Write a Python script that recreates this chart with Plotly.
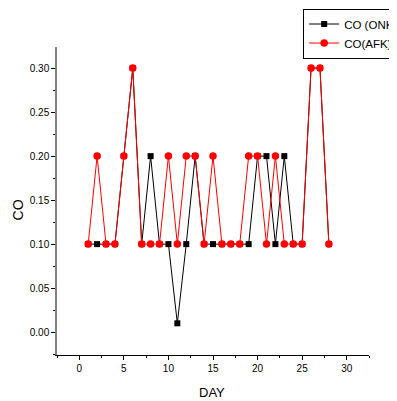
import plotly.graph_objects as go

days = list(range(1, 29))
co_onk = [0.1, 0.1, 0.1, 0.1, 0.2, 0.3, 0.1, 0.2, 0.1, 0.1, 0.01, 0.1, 0.2, 0.1,
          0.1, 0.1, 0.1, 0.1, 0.1, 0.2, 0.2, 0.1, 0.2, 0.1, 0.1, 0.3, 0.3, 0.1]
co_afk = [0.1, 0.2, 0.1, 0.1, 0.2, 0.3, 0.1, 0.1, 0.1, 0.2, 0.1, 0.2, 0.2, 0.1,
          0.2, 0.1, 0.1, 0.1, 0.2, 0.2, 0.1, 0.2, 0.1, 0.1, 0.1, 0.3, 0.3, 0.1]
series_names = ["CO (ONK)", "CO(AFK)"]
x_title = "DAY"
y_title = "CO"

fig = go.Figure()
fig.add_trace(go.Scatter(x=days, y=co_onk, name=series_names[0], mode="lines+markers",
                         line=dict(color="black", width=1),
                         marker=dict(symbol="square", size=6, color="black")))
fig.add_trace(go.Scatter(x=days, y=co_afk, name=series_names[1], mode="lines+markers",
                         line=dict(color="#ff0000", width=1),
                         marker=dict(symbol="circle", size=7.5, color="#ff0000")))

font = "Liberation Sans, Arial, sans-serif"
# page has an 8px body margin, so the figure is 8px smaller than the window
fig.update_layout(
    width=389, height=393,
    margin=dict(l=49, r=28, t=39, b=46, autoexpand=False),
    paper_bgcolor="white", plot_bgcolor="white",
    font=dict(family=font, color="black", size=10),
    showlegend=True,
    legend=dict(x=0.789, y=1.125, xanchor="left", yanchor="top",
                bordercolor="black", borderwidth=1, bgcolor="white",
                font=dict(size=11.5, family=font), itemwidth=30,
                tracegroupgap=0),
    annotations=[
        dict(text=x_title, xref="paper", yref="paper", x=0.497, y=-0.122,
             xanchor="center", yanchor="middle", showarrow=False,
             font=dict(size=13, family=font)),
        dict(text=y_title, xref="paper", yref="paper", x=-0.1266, y=0.471,
             xanchor="center", yanchor="middle", showarrow=False, textangle=-90,
             font=dict(size=14, family=font)),
    ],
)
fig.update_xaxes(
    range=[-2.5, 32.5], tick0=0, dtick=5, showgrid=False, zeroline=False,
    showline=True, linecolor="black", linewidth=1.2,
    ticks="outside", ticklen=4, tickcolor="black", tickwidth=1,
    minor=dict(ticks="outside", ticklen=2, dtick=2.5, tick0=0, tickcolor="black", showgrid=False),
    tickfont=dict(size=10),
)
fig.update_yaxes(
    range=[-0.026, 0.324], tick0=0, dtick=0.05, tickformat=".2f",
    showgrid=False, zeroline=False,
    showline=True, linecolor="#808080", linewidth=1.5,
    ticks="outside", ticklen=4, tickcolor="black", tickwidth=1,
    minor=dict(ticks="outside", ticklen=2, dtick=0.025, tick0=0, tickcolor="black", showgrid=False),
    tickfont=dict(size=10),
)
fig.write_html("out.html")
